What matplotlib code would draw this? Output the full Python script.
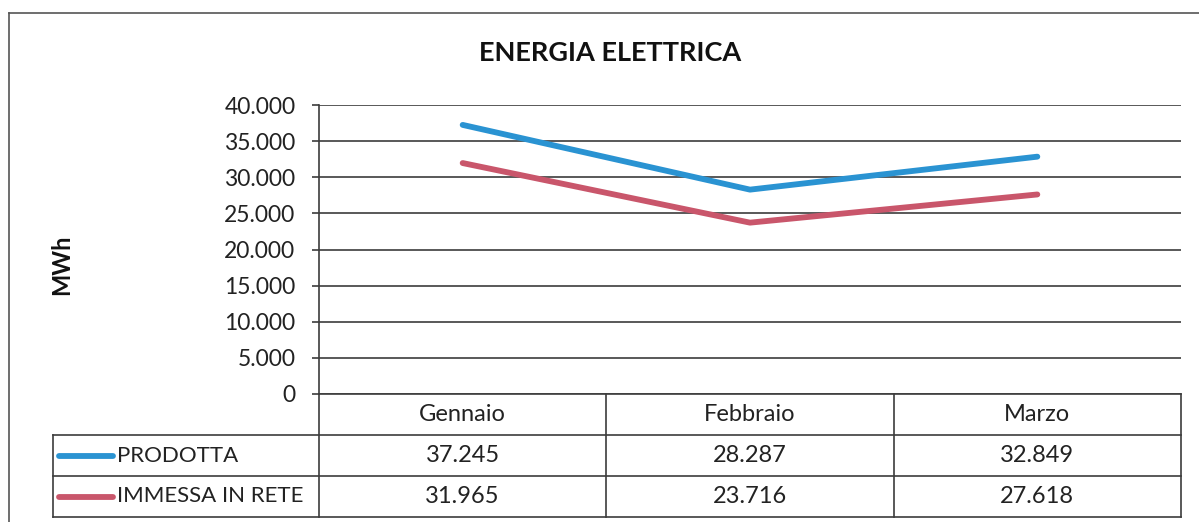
import matplotlib.pyplot as plt
from matplotlib.lines import Line2D
from matplotlib.ticker import FuncFormatter

months = ["Gennaio", "Febbraio", "Marzo"]
prodotta = [37245, 28287, 32849]
immessa = [31965, 23716, 27618]
series_names = ["PRODOTTA", "IMMESSA IN RETE"]
y_ticks = [0, 5000, 10000, 15000, 20000, 25000, 30000, 35000, 40000]

plt.rcParams['font.family'] = ['Lato', 'DejaVu Sans']

W, H = 1199, 522
blue = '#2a93d2'
red = '#c9566b'
grid_c = '#3c3c3c'


def box(l, t, r, b):
    # pixel box -> figure fraction
    return [l / W, 1 - b / H, (r - l) / W, (b - t) / H]


def it(v):
    return f"{int(v):,}".replace(",", ".")


fig = plt.figure(figsize=(W / 100, H / 100), dpi=100)

ax = fig.add_axes(box(319, 105, 1181, 394))
x = list(range(len(months)))
ax.plot(x, prodotta, color=blue, lw=4.2, solid_capstyle='round', zorder=3)
ax.plot(x, immessa, color=red, lw=4.2, solid_capstyle='round', zorder=3)
ax.set_xlim(-0.5, len(months) - 0.5)
ax.set_ylim(0, 40000)
ax.set_yticks(y_ticks)
ax.yaxis.set_major_formatter(FuncFormatter(lambda v, p: it(v)))
ax.grid(axis='y', color=grid_c, lw=1.2)
ax.set_xticks([])
for s in ['top', 'right', 'bottom']:
    ax.spines[s].set_visible(False)
ax.spines['left'].set_color(grid_c)
ax.spines['left'].set_linewidth(1.2)
ax.tick_params(axis='y', length=5, width=1.2, color=grid_c, pad=12,
               labelsize=16.5, labelcolor='#222222')

# data table below the plot
unit = (1181 - 319) / len(months)
leg_w = (319 - 53) / unit
tab = fig.add_axes(box(53, 394, 1181, 517))
x0 = -0.5 - leg_w
tab.set_xlim(x0, len(months) - 0.5)
tab.set_ylim(3, 0)
tab.axis('off')
lk = dict(color=grid_c, lw=1.2, clip_on=False)
tab.plot([-0.5, len(months) - 0.5], [0, 0], **lk)
for yy in [1, 2, 3]:
    tab.plot([x0, len(months) - 0.5], [yy, yy], **lk)
for xx in [-0.5 + i for i in range(len(months) + 1)]:
    tab.plot([xx, xx], [0, 3], **lk)
tab.plot([x0, x0], [1, 3], **lk)

for i, m in enumerate(months):
    tab.text(i, 0.5, m, ha='center', va='center', fontsize=17, color='#222222')
for r, (vals, name, col) in enumerate(zip([prodotta, immessa], series_names, [blue, red])):
    yy = r + 1.5
    for i, v in enumerate(vals):
        tab.text(i, yy, it(v), ha='center', va='center', fontsize=17, color='#222222')
    tab.plot([x0 + 6 / unit, x0 + 60 / unit], [yy, yy], color=col, lw=4.2,
             solid_capstyle='round', clip_on=False)
    tab.text(x0 + 64 / unit, yy, name, ha='left', va='center', fontsize=16, color='#222222')

fig.text(610 / W, 1 - 53 / H, "ENERGIA ELETTRICA", ha='center', va='center',
         fontsize=19.5, fontweight='bold', color='#111111')
fig.text(62 / W, 1 - 265 / H, "MWh", ha='center', va='center', rotation=90,
         fontsize=17, fontweight='bold', color='#111111')

# outer chart border
fig.add_artist(Line2D([9 / W, 1], [1 - 13 / H, 1 - 13 / H], transform=fig.transFigure,
                      color='#555555', lw=1.2))
fig.add_artist(Line2D([9 / W, 9 / W], [1 - 13 / H, 0], transform=fig.transFigure,
                      color='#555555', lw=1.2))

fig.savefig('out.png', dpi=100)
